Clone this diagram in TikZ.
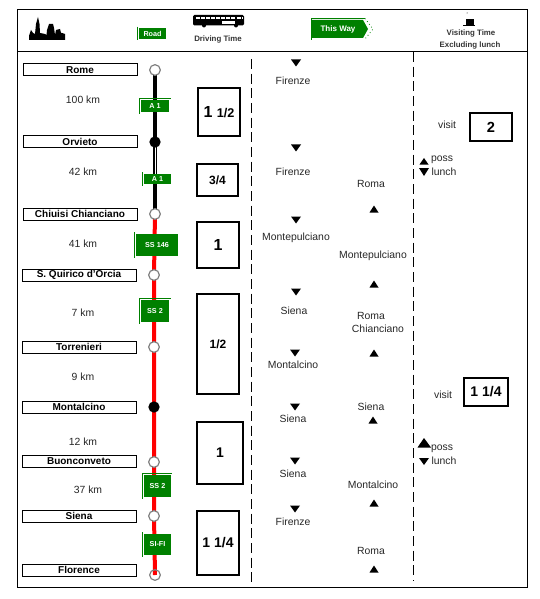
\documentclass[tikz,border=0pt]{standalone}
\usepackage{fontspec}
\setmainfont{Liberation Sans}
\usetikzlibrary{backgrounds}
\definecolor{signgreen}{RGB}{0,128,0}

\begin{document}
\begin{tikzpicture}[x=0.75pt, y=-0.75pt,
                  stnbox/.style={draw, line width=0.75pt, font=\fontsize{7.5}{9}\selectfont\bfseries, inner sep=0pt,
                              minimum height=9pt, minimum width=85.5pt, text centered},
                  halt/.style={circle, draw=gray, fill=white, line width=0.9pt, inner sep=0pt, minimum size=8pt},
                  stop/.style={circle, fill=black, inner sep=0pt, minimum size=8.5pt},
                  sign/.style={fill=signgreen, text=white, font=\fontsize{5.4}{7}\selectfont\bfseries, inner sep=0pt},
                  edge/.style={signgreen, line width=0.6pt},
                  timebox/.style={draw, line width=1.5pt, font=\fontsize{12}{14}\selectfont\bfseries, inner sep=0pt},
                  lbl/.style={font=\fontsize{7.8}{9}\selectfont, inner sep=0pt, text=black!85},
                  small/.style={font=\fontsize{5.9}{7}\selectfont\bfseries, inner sep=0pt, text=black!80},
                  dnt/.style={fill=black, line join=miter},
                  road/.style={line width=3pt},
                  sep/.style={dash pattern=on 7.5pt off 3.5pt, line width=0.75pt},
                  frac/.style={font=\fontsize{9}{11}\selectfont\bfseries},
            ]
            \useasboundingbox (0,0) rectangle (539,599);

            % ---- Frame ----
            \draw[line width=0.75pt] (17.5,10) rectangle (527.5,587);
            \draw[line width=0.75pt] (17.5,52) -- (527.5,52);
            \draw[sep] (251.5,59) -- (251.5,587);
            \draw[sep] (413.5,52) -- (413.5,581);

            % ---- Town labels (LEFT) ----
            \foreach \i/\x/\y/\lab in {
                        0/80/70/Rome, 1/80/142/Orvieto, 2/80/214/Chiuisi Chianciano,
                        3/79/275/S. Quirico d'Orcia, 4/79/347/Torrenieri, 5/79/407/Montalcino,
                        6/79/461/Buonconveto, 7/79/516/Siena, 8/79/570/Florence}{
                        \node[stnbox] (T\i) at (\x,\y) {\lab};
                  }

            % ---- Stations on the route ----
            \foreach \i/\x/\y/\kind in {
                        0/155/70/halt, 1/155/142/stop, 2/155/214/halt, 3/154/275/halt, 4/154/347/halt,
                        5/154/407/stop, 6/154/462/halt, 7/154/516/halt}{
                        \node[\kind] (S\i) at (\x,\y) {};
                  }
            \node[halt, fill=none] (S8) at (155,575) {};

            % ---- Road signs ----
            \foreach \i/\x/\y/\w/\h/\lab in {
                        0/155/106/21/9/A 1, 1/157.5/179/20/7.5/A 1, 2/157/245/31.5/16.5/SS 146,
                        3/155/311/21/16.5/SS 2, 4/157.5/486/20/16.5/SS 2, 5/157.5/544.5/20/16/SI-FI,
                        6/152.5/33.5/20/8/Road}{
                        \node[sign, minimum width=\w pt, minimum height=\h pt] (R\i) at (\x,\y) {\lab};
                        \draw[edge] ([xshift=-1.2pt, yshift=1pt]R\i.north west) -- ([xshift=-1.2pt, yshift=-1pt]R\i.south west);
                  }
            \foreach \i in {0,3,4}{
                        \draw[edge] ([xshift=-1.2pt, yshift=1pt]R\i.north west) -- ([yshift=1pt, xshift=1pt]R\i.north east);
                  }

            % ---- Route ----
            \begin{scope}[on background layer]
                  \draw[road, black] (S0.center) -- (S1.center) -- (S2.center);
                  \draw[white, line width=0.5pt] (S1.center) -- (S1.center |- R1.north);
                  \draw[road, red] (S2.center) -- (S3.center) -- (S4.center) -- (S5.center)
                  -- (S6.center) -- (S7.center) -- (S8.center);
            \end{scope}

            % ---- Distances ----
            \foreach \y/\lab in {100/100 km, 172/42 km, 244/41 km, 313/7 km, 377/9 km, 442/12 km}{
                        \node[lbl] (D\y) at (83,\y) {\lab};
                  }
            \node[lbl] (D490) at (88,490) {37 km};

            % ---- Driving times ----
            \node[timebox, minimum width=32pt, minimum height=36pt] (B0) at (219,112.5) {1 {\fontsize{9.5}{11}\selectfont 1/2}};
            \node[timebox, frac, minimum width=31pt, minimum height=24.5pt] (B1) at (217.5,180) {3/4};
            \node[timebox, minimum width=32pt, minimum height=35pt] (B2) at (218,245) {1};
            \node[timebox, frac, minimum width=32pt, minimum height=75.5pt] (B3) at (218,344) {1/2};
            \node[timebox, font=\fontsize{10.5}{12}\selectfont\bfseries, minimum width=35pt, minimum height=47pt] (B4) at (220,453) {1};
            \node[timebox, font=\fontsize{10.5}{12}\selectfont\bfseries, minimum width=32pt, minimum height=48pt] (B5) at (218,542.5) {1 1/4};

            % ---- Towards Firenze ----
            \foreach \i/\x/\y/\lab in {
                        0/293/81/Firenze, 1/293/172/Firenze, 2/296/238/Montepulciano, 3/294/311/Siena,
                        4/293/365/Montalcino, 5/293/419/Siena, 6/293/474/Siena, 7/293/522/Firenze}{
                        \node[lbl] (F\i) at (\x,\y) {\lab};
                  }
            \foreach \x/\y in {296/63, 296/148, 296/220, 296/292, 295/353, 295/407, 295/461, 295/509}{
                        \fill[dnt] (\x-5,\y-3.5) -- (\x+5,\y-3.5) -- (\x,\y+3.5) -- cycle;
                  }

            % ---- Towards Roma ----
            \foreach \i/\x/\y/\lab in {
                        0/371/184/Roma, 1/373/256/Montepulciano, 2/371/316/Roma, 3/378/329/Chianciano,
                        4/371/407/Siena, 5/373/485/Montalcino, 6/371/551/Roma}{
                        \node[lbl] (G\i) at (\x,\y) {\lab};
                  }
            \foreach \x/\y in {374/209, 374/284, 374/353, 373/420, 374/503, 374/569}{
                        \fill[dnt] (\x-4.5,\y+3.5) -- (\x+4.5,\y+3.5) -- (\x,\y-3.5) -- cycle;
                  }

            % ---- Visits (RIGHT) ----
            \node[timebox, font=\fontsize{11}{13}\selectfont\bfseries, minimum width=32pt, minimum height=21.5pt] (V0) at (491,127) {2};
            \node[lbl] (W0) at (447,125) {visit};
            \node[timebox, font=\fontsize{10.5}{12}\selectfont\bfseries, minimum width=33pt, minimum height=21.5pt] (V1) at (486,392) {1 1/4};
            \node[lbl] (W1) at (443,395) {visit};
            \foreach \i/\x/\y/\lab in {0/442/160/poss, 1/444/172/lunch, 2/442/449/poss, 3/444/461/lunch}{
                        \node[lbl] (P\i) at (\x,\y) {\lab};
                  }
            \fill[dnt] (419.5,164.5) -- (428.5,164.5) -- (424,158) -- cycle;
            \fill[dnt] (419,168) -- (429,168) -- (424,176) -- cycle;
            \fill[dnt] (417.5,447.5) -- (431,447.5) -- (424,438) -- cycle;
            \fill[dnt] (419,458) -- (429,458) -- (424,465) -- cycle;

            % ---- Header ----
            % skyline
            \fill (29,40) -- (29,36) -- (31,30) -- (33,33) -- (35,34) -- (36,24) -- (38,17) -- (39.5,24) -- (40,33)
            -- (45,34) -- (46.5,35) -- (47,30) -- (49,24) -- (53,24) -- (54,28) -- (55,35) -- (56,30) -- (60,29)
            -- (61,33) -- (62,33) -- (65,34) -- (65,40) -- cycle;
            % bus
            \fill[rounded corners=1pt] (193,15) rectangle (244,25.5);
            \draw[white, line width=1.5pt, dash pattern=on 3pt off 0.8pt] (196,18.5) -- (242,18.5);
            \fill[white] (222,21.5) rectangle (235,24.5);
            \fill (204,25.5) circle (2) (236,25.5) circle (2);
            \node[small] (H0) at (218,39) {Driving Time};
            % this way arrow
            \fill[signgreen] (312,20) -- (363,20) -- (368,29) -- (363,38) -- (312,38) -- cycle;
            \draw[edge] (311,40) -- (311,18.5) -- (365,18.5);
            \draw[edge, dotted] (365,18.5) -- (373,29) -- (365,39);
            \node[sign, font=\fontsize{6}{7}\selectfont\bfseries] (H1) at (338,29) {This Way};
            % cup
            \fill (466,19) rectangle (474,25);
            \fill (463,25) rectangle (475,26.5);
            \fill (467,13) circle (0.5);
            \node[small] (H2) at (471,33) {Visiting Time};
            \node[small] (H3) at (470,45.5) {Excluding lunch};

      \end{tikzpicture}
\end{document}
